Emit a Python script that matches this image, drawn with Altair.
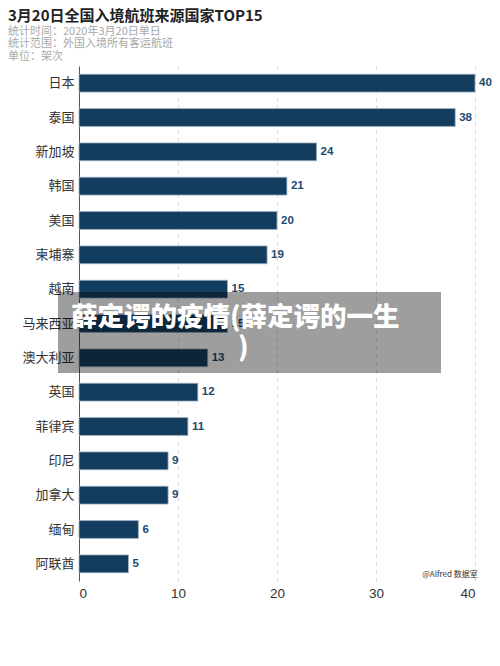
import altair as alt
import pandas as pd

countries = ["日本", "泰国", "新加坡", "韩国", "美国", "柬埔寨", "越南", "马来西亚",
             "澳大利亚", "英国", "菲律宾", "印尼", "加拿大", "缅甸", "阿联酋"]
flights = [40, 38, 24, 21, 20, 19, 15, 15, 13, 12, 11, 9, 9, 6, 5]
x_ticks = [0, 10, 20, 30, 40]

title = "3月20日全国入境航班来源国家TOP15"
subtitle_lines = ["统计时间：2020年3月20日单日", "统计范围：外国入境所有客运航班", "单位：架次"]
overlay_lines = ["薛定谔的疫情(薛定谔的一生", ")"]
credit = "@Alfred 数据室"

df = pd.DataFrame({"country": countries, "flights": flights})

FONT = "Noto Sans CJK SC"
W, H = 396, 515

y_enc = alt.Y("country:N", sort=countries, title=None,
              scale=alt.Scale(paddingInner=0.48, paddingOuter=0.24),
              axis=alt.Axis(labelFontSize=13, labelColor="#333333", labelFont=FONT,
                            ticks=False, labelPadding=5, domainColor="#555555",
                            domainWidth=1, grid=False))
x_enc = alt.X("flights:Q", title=None,
              scale=alt.Scale(domain=[0, 40], nice=False),
              axis=alt.Axis(values=x_ticks, labelFontSize=13.5, labelColor="#333333",
                            labelFont="Liberation Sans", domain=False, ticks=False,
                            labelPadding=5, grid=True, gridDash=[4, 4],
                            gridColor="#d8d8d8", gridWidth=1))

bars = alt.Chart(df).mark_bar(color="#123d5f", stroke="#9fb3c6", strokeWidth=0.8).encode(
    x=x_enc, y=y_enc)

labels = alt.Chart(df).mark_text(align="left", baseline="middle", dx=4, fontSize=11.5,
                                 fontWeight="bold", color="#1b4a72",
                                 font="Liberation Sans").encode(
    x="flights:Q", y=alt.Y("country:N", sort=countries), text="flights:Q")

title_mark = alt.Chart(pd.DataFrame({"t": [title]})).mark_text(
    align="left", baseline="middle", fontSize=15, fontWeight="bold",
    color="#222222", font=FONT).encode(
    x=alt.value(-71), y=alt.value(-50), text="t:N")

sub_marks = []
for i, line in enumerate(subtitle_lines):
    d = pd.DataFrame({"t": [line]})
    sub_marks.append(alt.Chart(d).mark_text(align="left", baseline="middle", fontSize=11,
                                            color="#a8a8a8", font=FONT).encode(
        x=alt.value(-71), y=alt.value(-34.5 + 12.5 * i), text="t:N"))

overlay_rect = alt.Chart(pd.DataFrame({"a": [0]})).mark_rect(color="#000000", opacity=0.38).encode(
    x=alt.value(-21), x2=alt.value(362), y=alt.value(226), y2=alt.value(307))

overlay_texts = []
for i, line in enumerate(overlay_lines):
    d = pd.DataFrame({"t": [line]})
    overlay_texts.append(alt.Chart(d).mark_text(align="left", baseline="middle", fontSize=26.5,
                                                fontWeight=900, color="#ffffff", font=FONT).encode(
        x=alt.value(-8 if i == 0 else 159), y=alt.value(252 + 30 * i), text="t:N"))

credit_mark = alt.Chart(pd.DataFrame({"t": [credit]})).mark_text(
    align="center", baseline="middle", fontSize=8, color="#333333", font=FONT).encode(
    x=alt.value(371), y=alt.value(509), text="t:N")

chart = alt.layer(bars, labels, title_mark, *sub_marks, overlay_rect, *overlay_texts, credit_mark).properties(
    width=W, height=H,
    autosize=alt.AutoSizeParams(type="none"),
    padding={"left": 71, "top": 58, "right": 17, "bottom": 30},
    background="#ffffff",
).configure_view(stroke=None)

chart.save("out.html", embed_options={"renderer": "svg", "actions": False})
